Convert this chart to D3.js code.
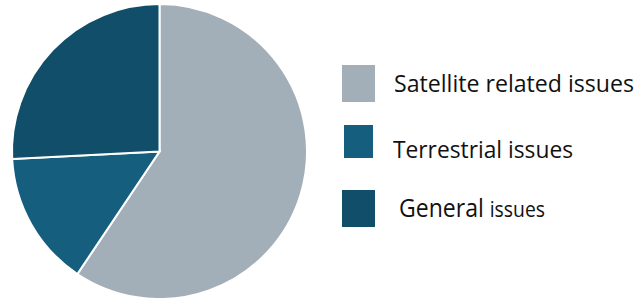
<!DOCTYPE html>
<html lang="en">
<head>
    <meta charset="UTF-8">
    <title>Issues pie</title>
    <script src="https://d3js.org/d3.v7.min.js"></script>
    <style>
        body { margin: 0; background: #fff; }
        svg { display: block; }
        text { font-family: 'Open Sans', sans-serif; fill: #111; }
    </style>
</head>
<body>
<div id="chart"></div>
<script>
    // data (shares in %)
    const categories = ["Satellite related issues", "Terrestrial issues", "General issues"];
    const values = [59.4, 14.8, 25.8];
    const colors = ["#a2afb9", "#165e7e", "#104e69"];

    const width = 638, height = 298;
    const svg = d3.select("#chart").append("svg")
        .attr("width", width)
        .attr("height", height);

    const cx = 159.5, cy = 151.5, radius = 147.5;

    const pie = d3.pie().sort(null).value(d => d);
    const arc = d3.arc().innerRadius(0).outerRadius(radius);

    const g = svg.append("g").attr("transform", `translate(${cx},${cy})`);
    g.selectAll("path")
        .data(pie(values))
        .enter().append("path")
        .attr("d", arc)
        .attr("fill", (d, i) => colors[i])
        .attr("stroke", "#fff")
        .attr("stroke-width", 2);

    // legend
    const legend = [
        { box: [342, 65, 33, 37], tx: 394, ty: 92, len: 240, size: 23.5 },
        { box: [344, 125, 29, 33], tx: 393, ty: 158, len: 180, size: 23.5 },
        { box: [342, 190, 33, 37], tx: 399, ty: 217, len: 146, size: 25 }
    ];

    const lg = svg.selectAll(".leg")
        .data(categories)
        .enter().append("g")
        .attr("class", "leg");

    lg.append("rect")
        .attr("x", (d, i) => legend[i].box[0])
        .attr("y", (d, i) => legend[i].box[1])
        .attr("width", (d, i) => legend[i].box[2])
        .attr("height", (d, i) => legend[i].box[3])
        .attr("fill", (d, i) => colors[i]);

    lg.append("text")
        .attr("x", (d, i) => legend[i].tx)
        .attr("y", (d, i) => legend[i].ty)
        .attr("font-size", (d, i) => legend[i].size)
        .attr("textLength", (d, i) => legend[i].len)
        .attr("lengthAdjust", "spacingAndGlyphs")
        .each(function (d, i) {
            const t = d3.select(this);
            if (i === 2) {
                const parts = d.split(" ");
                t.append("tspan").text(parts[0] + " ");
                t.append("tspan").attr("font-size", 21).text(parts[1]);
            } else {
                t.text(d);
            }
        });
</script>
</body>
</html>
